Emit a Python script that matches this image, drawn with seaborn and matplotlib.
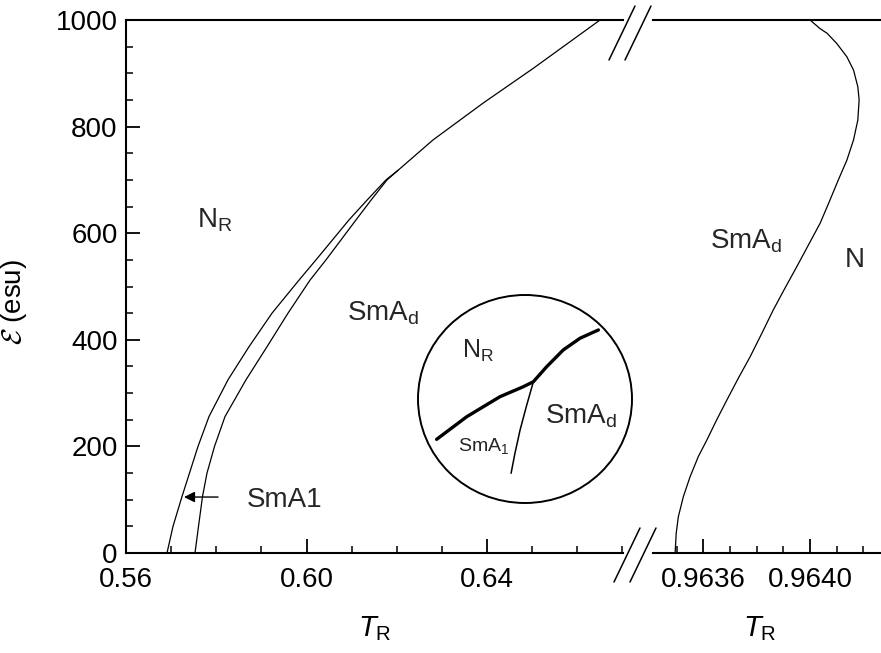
import numpy as np
import pandas as pd
import matplotlib
matplotlib.use("Agg")
import matplotlib.pyplot as plt
import seaborn as sns
from matplotlib.lines import Line2D
from matplotlib.patches import Ellipse
from matplotlib.ticker import MultipleLocator

# phase boundaries, left panel (T_R, field in esu)
nr_sma1_T = [0.569086, 0.570415, 0.572410, 0.574072, 0.575956, 0.578393, 0.582604, 0.587258,
             0.592355, 0.598338, 0.602105, 0.609418, 0.613407, 0.617618, 0.620277, 0.628033,
             0.639114, 0.650194, 0.665042]
nr_sma1_E = [0, 50, 106, 150, 200, 256, 325, 387, 450, 512, 550, 625, 662, 700, 718, 775,
             844, 909, 1000]
sma1_smad_T = [0.575291, 0.576066, 0.576953, 0.577950, 0.579613, 0.581940, 0.586593, 0.591247,
               0.595900, 0.600776, 0.604321, 0.610970, 0.614294, 0.617839, 0.620277]
sma1_smad_E = [0, 50, 106, 150, 200, 256, 325, 387, 450, 512, 550, 625, 662, 700, 718]

# right panel: SmAd / N boundary
smad_n_T = [0.963494, 0.963498, 0.963506, 0.963525, 0.963550, 0.963581, 0.963613, 0.963650,
            0.963688, 0.963731, 0.963775, 0.963819, 0.963862, 0.963906, 0.963950, 0.963994,
            0.964038, 0.964072, 0.964106, 0.964138, 0.964163, 0.964179, 0.964184, 0.964179,
            0.964163, 0.964138, 0.964100, 0.964064, 0.964037, 0.964000]
smad_n_E = [0, 37, 68, 106, 143, 181, 212, 250, 287, 328, 368, 412, 456, 497, 537, 578,
            619, 659, 700, 737, 775, 812, 850, 875, 906, 931, 956, 975, 984, 1000]

# schematic inset (arbitrary units)
inset_thick_u = [0.087, 0.228, 0.383, 0.492, 0.539, 0.601, 0.679, 0.757, 0.843]
inset_thick_v = [0.306, 0.415, 0.511, 0.559, 0.583, 0.655, 0.736, 0.792, 0.832]
inset_thin_u = [0.539, 0.506, 0.477, 0.453, 0.435]
inset_thin_v = [0.583, 0.463, 0.351, 0.239, 0.143]

left_xticks = [0.56, 0.60, 0.64]
left_xlabels = ["0.56", "0.60", "0.64"]
right_xticks = [0.9636, 0.9640]
right_xlabels = ["0.9636", "0.9640"]
yticks = [0, 200, 400, 600, 800, 1000]

sns.set_theme(style="ticks")
plt.rcParams["font.family"] = ["Liberation Sans", "DejaVu Sans"]
plt.rcParams["mathtext.fontset"] = "custom"
plt.rcParams["mathtext.rm"] = "Liberation Sans"
plt.rcParams["mathtext.it"] = "Liberation Sans:italic"
plt.rcParams["mathtext.bf"] = "Liberation Sans:bold"
plt.rcParams["axes.linewidth"] = 1.5

W, H = 881, 653
fig = plt.figure(figsize=(W / 100, H / 100), dpi=100)
ax1 = fig.add_axes([126 / W, 1 - 553 / H, 497 / W, 533 / H])
ax2 = fig.add_axes([653 / W, 1 - 553 / H, 228 / W, 533 / H])

black = "black"
sns.lineplot(x=nr_sma1_T, y=nr_sma1_E, sort=False, estimator=None, color=black, lw=0.9, ax=ax1)
sns.lineplot(x=sma1_smad_T, y=sma1_smad_E, sort=False, estimator=None, color=black, lw=0.9, ax=ax1)
sns.lineplot(x=smad_n_T, y=smad_n_E, sort=False, estimator=None, color=black, lw=0.9, ax=ax2)

ax1.set_xlim(0.56, 0.67013)
ax2.set_xlim(0.963411, 0.964266)
for ax in (ax1, ax2):
    ax.set_ylim(0, 1000)
    ax.spines["right"].set_visible(False)
    for s in ax.spines.values():
        s.set_linewidth(1.5)
        s.set_color(black)
    ax.tick_params(which="major", direction="in", length=10, width=1.3, labelsize=20,
                   colors=black, pad=10)
    ax.tick_params(which="minor", direction="in", length=5, width=1.1, colors=black)
    ax.tick_params(top=False, right=False, which="both")
    ax.set_xlabel("$T_\\mathrm{R}$", fontsize=21, color=black)
    ax.xaxis.set_label_coords(0.5, -0.115)

ax1.set_xticks(left_xticks)
ax1.set_xticklabels(left_xlabels)
ax1.xaxis.set_minor_locator(MultipleLocator(0.01))
ax1.set_yticks(yticks)
ax1.yaxis.set_minor_locator(MultipleLocator(50))
ax1.tick_params(axis="y", pad=6)
ax1.set_ylabel("$\\mathcal{E}$ (esu)", fontsize=20, color=black, math_fontfamily="cm")
ax1.yaxis.set_label_coords(-0.195, 0.47)

ax2.spines["left"].set_visible(False)
ax2.set_xticks(right_xticks)
ax2.set_xticklabels(right_xlabels)
ax2.xaxis.set_minor_locator(MultipleLocator(0.0001))
ax2.set_yticks([])
ax2.xaxis.set_label_coords(0.47, -0.115)

# region labels
fs = 20
ax1.text(0.57573, 610, "N$_\\mathrm{R}$", fontsize=fs, va="baseline")
ax1.text(0.60890, 437, "SmA$_\\mathrm{d}$", fontsize=fs, va="baseline")
ax1.text(0.58674, 87, "SmA1", fontsize=fs, va="baseline")
ax1.annotate("", xy=(0.57285, 105), xytext=(0.58039, 105),
             arrowprops=dict(arrowstyle="-|>", color=black, lw=1, mutation_scale=16,
                             shrinkA=0, shrinkB=0))
ax2.text(0.963625, 572, "SmA$_\\mathrm{d}$", fontsize=fs, va="baseline")
ax2.text(0.964131, 537, "N", fontsize=fs, va="baseline")

# axis break marks
def break_mark(xc, yc):
    for dx in (-8, 8):
        x0, y0 = xc + dx - 13, yc + 27
        x1, y1 = xc + dx + 13, yc - 27
        fig.add_artist(Line2D([x0 / W, x1 / W], [1 - y0 / H, 1 - y1 / H],
                              color=black, lw=1.1, transform=fig.transFigure))

break_mark(630, 33)
break_mark(635, 555)

# inset schematic
axi = fig.add_axes([418 / W, 1 - 503 / H, 214 / W, 208 / H])
axi.set_axis_off()
axi.set_xlim(0, 1)
axi.set_ylim(0, 1)
axi.add_patch(Ellipse((0.5, 0.5), 1, 1, transform=axi.transAxes, fill=False,
                      edgecolor=black, lw=1.4, clip_on=False))
sns.lineplot(x=inset_thick_u, y=inset_thick_v, sort=False, estimator=None, color=black,
             lw=2.4, ax=axi)
sns.lineplot(x=inset_thin_u, y=inset_thin_v, sort=False, estimator=None, color=black,
             lw=1.1, ax=axi)
axi.text(0.204, 0.700, "N$_\\mathrm{R}$", fontsize=18, va="baseline")
axi.text(0.593, 0.383, "SmA$_\\mathrm{d}$", fontsize=20, va="baseline")
axi.text(0.188, 0.252, "SmA$_1$", fontsize=14, va="baseline")

fig.savefig("out.png", dpi=100)
